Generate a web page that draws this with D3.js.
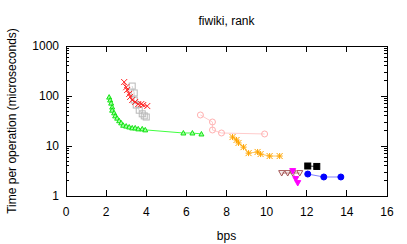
<!DOCTYPE html>
<html>
<head>
<meta charset="utf-8">
<script src="https://cdn.jsdelivr.net/npm/d3@7"></script>
<style>
  body { margin: 0; background: #fff; }
  text { font-family: "Liberation Sans", Arial, sans-serif; font-size: 12px; fill: #000; }
</style>
</head>
<body>
<svg id="chart" width="407" height="244"></svg>
<script>
// series data: [bps, microseconds]
const greenPts = [[2.15,95],[2.2,83],[2.25,72],[2.3,60],[2.3,52],[2.4,46],[2.45,40],[2.55,36],
  [2.65,32],[2.75,29],[2.85,26],[3.0,25],[3.15,24],[3.3,23],[3.45,23],[3.6,22],[3.8,22],[3.95,21],
  [5.85,18.2],[6.3,18.2],[6.75,17.4]];
const redPts = [[2.9,190],[3.0,150],[3.05,132],[3.15,110],[3.2,96],[3.3,83],[3.45,76],[3.6,69],
  [3.75,69],[3.85,66],[4.05,63]];
const grayPts = [[3.3,158],[3.4,115],[3.4,83],[3.5,66],[3.65,52],[3.8,44],[3.9,40],[4.0,38]];
const pinkPts = [[6.7,41.7],[7.3,30.2],[7.3,20.9],[7.75,18.2],[9.9,17.4]];
const orangePts = [[8.3,15.1],[8.5,13.2],[8.6,11.5],[8.85,9.5],[9.1,7.2],[9.55,7.6],[9.7,6.9],
  [10.15,6.3],[10.65,6.3]];
const brownPts = [[10.75,2.88],[11.05,2.88],[11.3,2.88],[11.65,2.88]];
const magentaPts = [[11.3,3.16],[11.45,2.19],[11.55,1.82]];
const blackPts = [[12.05,3.98],[12.5,3.9]];
const bluePts = [[12.05,2.75],[12.85,2.4],[13.7,2.4]];

const xTicks = [0,2,4,6,8,10,12,14,16];
const yTicks = [1,10,100,1000];

const series = [
  {pts: greenPts, color: "#00e000", line: "#40ff40", sym: "triangle", s: 2.5},
  {pts: grayPts, color: "#b8b8b8", line: "#d8d8d8", sym: "box", s: 3},
  {pts: redPts, color: "#ff2020", line: "#ff6060", sym: "cross", s: 3},
  {pts: pinkPts, color: "#ffb0b0", line: "#ffcccc", sym: "circle", s: 3},
  {pts: orangePts, color: "#ffa500", line: "#ffc860", sym: "star", s: 3},
  {pts: brownPts, color: "#a05050", line: "#c08080", sym: "triDown", s: 3},
  {pts: magentaPts, color: "#ff00ff", line: "#ff80ff", sym: "triDownFill", s: 3},
  {pts: blackPts, color: "#000000", line: "#404040", sym: "boxFill", s: 3},
  {pts: bluePts, color: "#0000ff", line: "#8080ff", sym: "circleFill", s: 3}
];

const L = 66, R = 387, T = 46, B = 196;
const svg = d3.select("#chart");
const x = d3.scaleLinear().domain([0, 16]).range([L, R]);
const y = d3.scaleLog().domain([1, 1000]).range([B, T]);

// frame
svg.append("rect").attr("x", L).attr("y", T).attr("width", R - L).attr("height", B - T)
  .attr("fill", "none").attr("stroke", "#000").attr("stroke-width", 1)
  .attr("shape-rendering", "crispEdges");

// x ticks (mirrored)
const g = svg.append("g").attr("shape-rendering", "crispEdges").attr("stroke", "#000");
xTicks.forEach(t => {
  g.append("line").attr("x1", x(t)).attr("x2", x(t)).attr("y1", B).attr("y2", B - 6);
  g.append("line").attr("x1", x(t)).attr("x2", x(t)).attr("y1", T).attr("y2", T + 6);
  svg.append("text").attr("x", x(t)).attr("y", 216).attr("text-anchor", "middle").text(t);
});

// y ticks with log minors (mirrored)
yTicks.forEach((t, i) => {
  g.append("line").attr("x1", L).attr("x2", L + 6).attr("y1", y(t)).attr("y2", y(t));
  g.append("line").attr("x1", R).attr("x2", R - 6).attr("y1", y(t)).attr("y2", y(t));
  svg.append("text").attr("x", 59).attr("y", y(t) + 4).attr("text-anchor", "end").text(t);
  if (i < yTicks.length - 1) {
    for (let m = 2; m <= 9; m++) {
      const v = t * m;
      g.append("line").attr("x1", L).attr("x2", L + 3).attr("y1", y(v)).attr("y2", y(v));
      g.append("line").attr("x1", R).attr("x2", R - 3).attr("y1", y(v)).attr("y2", y(v));
    }
  }
});

// titles
svg.append("text").attr("x", (L + R) / 2).attr("y", 25).attr("text-anchor", "middle").text("fiwiki, rank");
svg.append("text").attr("x", (L + R) / 2).attr("y", 240).attr("text-anchor", "middle").text("bps");
svg.append("text").attr("transform", `translate(16,${(T + B) / 2}) rotate(-90)`)
  .attr("text-anchor", "middle").text("Time per operation (microseconds)");

const line = d3.line().x(d => x(d[0])).y(d => y(d[1]));

function marker(sel, sym, color, s) {
  if (sym === "cross") {
    sel.append("path").attr("d", `M${-s},${-s}L${s},${s}M${-s},${s}L${s},${-s}`).attr("stroke", color);
  } else if (sym === "star") {
    sel.append("path").attr("d", `M${-s},${-s}L${s},${s}M${-s},${s}L${s},${-s}M0,${-s}L0,${s}M${-s},0L${s},0`)
      .attr("stroke", color);
  } else if (sym === "box" || sym === "boxFill") {
    sel.append("rect").attr("x", -s).attr("y", -s).attr("width", 2 * s).attr("height", 2 * s)
      .attr("fill", sym === "boxFill" ? color : "none").attr("stroke", color);
  } else if (sym === "circle" || sym === "circleFill") {
    sel.append("circle").attr("r", s).attr("fill", sym === "circleFill" ? color : "none").attr("stroke", color);
  } else if (sym === "triangle") {
    sel.append("path").attr("d", `M0,${-s}L${s},${s * 0.8}L${-s},${s * 0.8}Z`)
      .attr("fill", "#a0ffa0").attr("stroke", color).attr("stroke-width", 0.9);
  } else {
    sel.append("path").attr("d", `M0,${s}L${s},${-s * 0.8}L${-s},${-s * 0.8}Z`)
      .attr("fill", sym === "triDownFill" ? color : "none").attr("stroke", color);
  }
}

series.forEach(se => {
  svg.append("path").datum(se.pts).attr("d", line)
    .attr("fill", "none").attr("stroke", se.line).attr("stroke-width", 1);
  svg.append("g").selectAll("g").data(se.pts).join("g")
    .attr("transform", d => `translate(${x(d[0])},${y(d[1])})`)
    .each(function () { marker(d3.select(this), se.sym, se.color, se.s); });
});
</script>
</body>
</html>
